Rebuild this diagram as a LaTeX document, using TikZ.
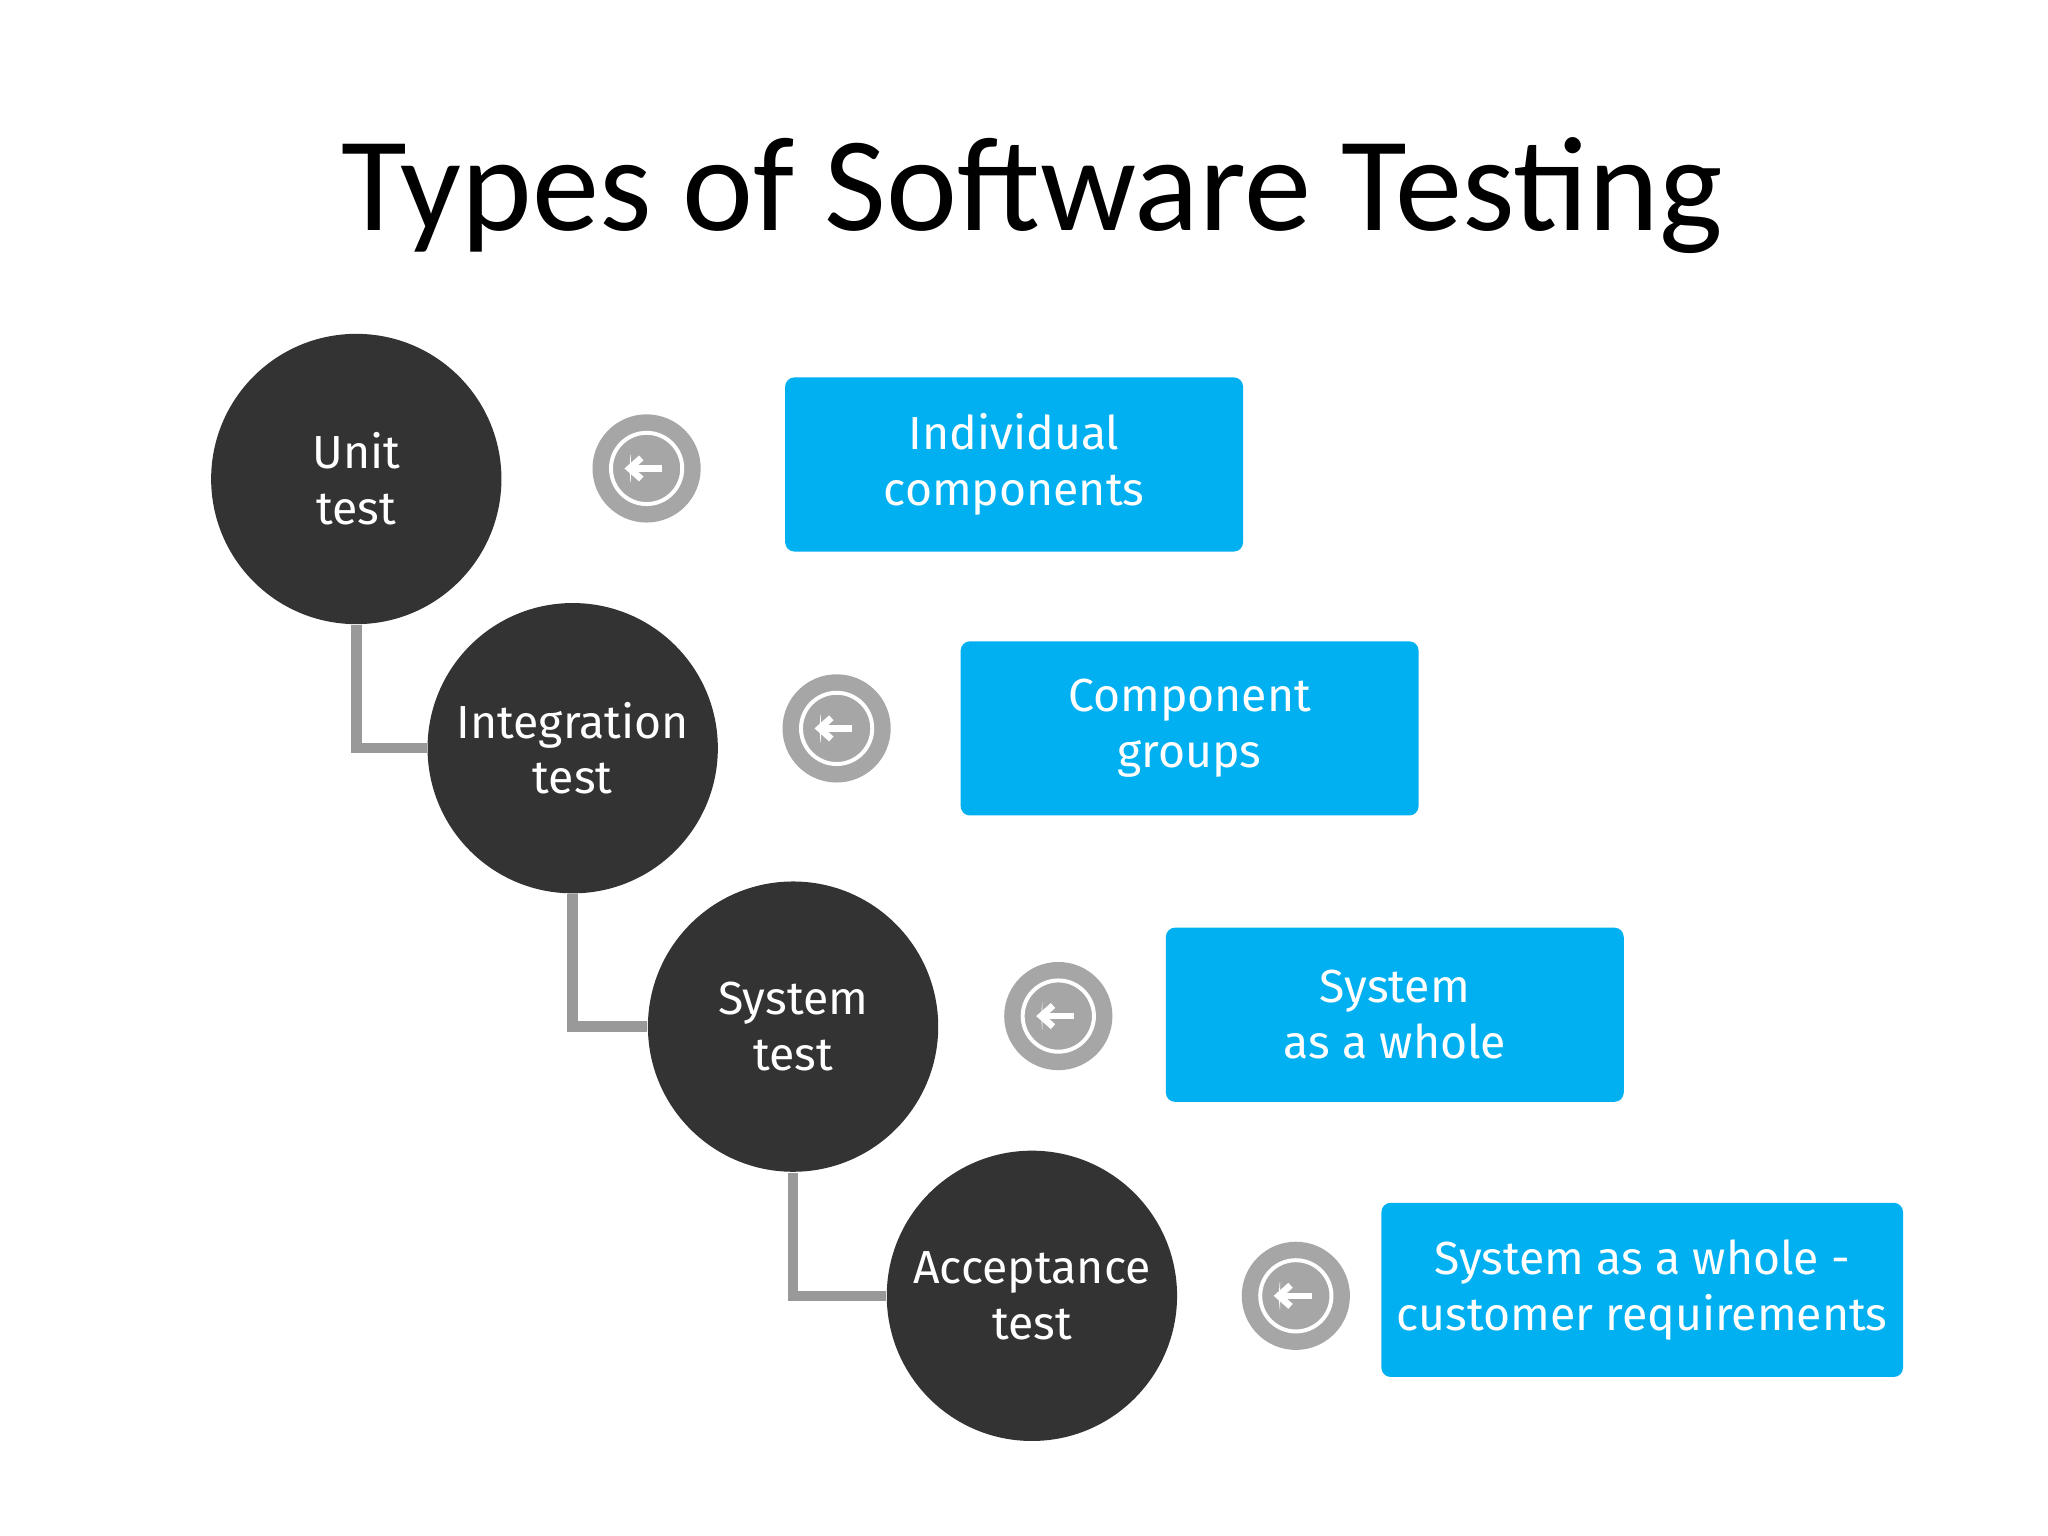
\documentclass[tikz,border=0pt]{standalone}
\usepackage{fontspec}
\setmainfont{Carlito}
\newfontfamily\boxfont{Fira Sans}
\usetikzlibrary{arrows.meta}
\definecolor{dark}{HTML}{333333}
\definecolor{cyanbox}{HTML}{00B0F0}
\definecolor{conn}{HTML}{999999}
\definecolor{icon}{HTML}{A6A6A6}
\tikzset{
  stage/.style={circle,fill=dark,minimum size=2.2cm,inner sep=0pt,text=white,align=center,font=\boxfont\fontsize{10}{12}\selectfont},
  info/.style={rectangle,rounded corners=2pt,fill=cyanbox,minimum width=3.47cm,minimum height=1.32cm,text=white,align=center,font=\boxfont\fontsize{10}{12}\selectfont},
  iconc/.style={circle,fill=icon,minimum size=0.82cm,inner sep=0pt},
  link/.style={draw=conn,line width=0.08cm}
}
\newcommand{\backicon}[1]{%
  \draw[white,line width=0.03cm] (#1) circle (0.27);
  \draw[white,line width=0.05cm,-{Triangle[open,length=0.01cm]}] ([xshift=0.12cm]#1) -- ([xshift=-0.13cm]#1);
  \draw[white,line width=0.05cm] ([xshift=-0.04cm,yshift=0.08cm]#1) -- ([xshift=-0.13cm]#1) -- ([xshift=-0.04cm,yshift=-0.08cm]#1);
}
\begin{document}
\begin{tikzpicture}
\useasboundingbox[fill=white] (0,0) rectangle (15.52,-11.64);
\node[font=\fontsize{29}{34}\selectfont] (title) at (7.82,-1.48) {Types of Software Testing};
\node[stage] (u) at (2.70,-3.63) {Unit\\test};
\node[stage] (i) at (4.34,-5.67) {Integration\\test};
\node[stage] (s) at (6.01,-7.78) {System\\test};
\node[stage] (a) at (7.82,-9.82) {Acceptance\\test};
\begin{scope}[on background layer/.try]
\end{scope}
\draw[link] (u.south) |- (i.west);
\draw[link] (i.south) |- (s.west);
\draw[link] (s.south) |- (a.west);
\node[iconc] (c1) at (4.90,-3.55) {};
\node[iconc] (c2) at (6.34,-5.52) {};
\node[iconc] (c3) at (8.02,-7.70) {};
\node[iconc] (c4) at (9.82,-9.82) {};
\backicon{c1.center}
\backicon{c2.center}
\backicon{c3.center}
\backicon{c4.center}
\node[info] (b1) at (7.685,-3.52) {Individual\\components};
\node[info] (b2) at (9.015,-5.52) {Component\\groups};
\node[info] (b3) at (10.57,-7.69) {System\\as a whole};
\node[info] (b4) at (12.445,-9.775) {System as a whole -\\customer requirements};
\end{tikzpicture}
\end{document}
